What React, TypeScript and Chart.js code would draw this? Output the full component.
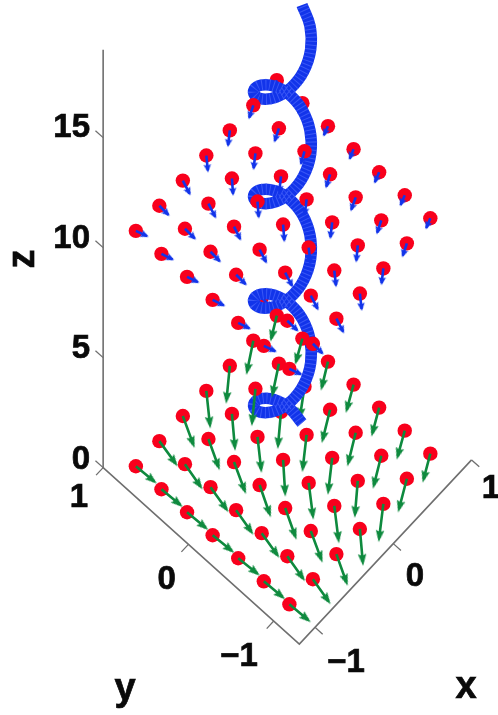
import React, { useEffect, useRef } from "react";
import { Chart, registerables } from "chart.js";

Chart.register(...registerables);

// Grid of field sample points (x and y coordinates)
const gridX = [-1, -0.7, -0.4, -0.1, 0.2, 0.5, 0.8];
const gridY = [-1, -0.7, -0.4, -0.1, 0.2, 0.5, 0.8];
const lowerZ = 0;
const upperZ = 10.7;

// Field vectors in the lower plane; rows follow gridY, columns follow gridX
const lowerU = [
  [0.008, -0.059, -0.14, -0.221, -0.276, -0.27, -0.233],
  [0.008, -0.059, -0.137, -0.215, -0.258, -0.263, -0.235],
  [0.014, -0.057, -0.14, -0.211, -0.265, -0.267, -0.233],
  [0.012, -0.059, -0.144, -0.225, -0.267, -0.265, -0.229],
  [0.009, -0.057, -0.138, -0.21, -0.261, -0.243, -0.229],
  [0.009, -0.061, -0.137, -0.221, -0.264, -0.26, -0.213],
  [0.01, -0.057, -0.139, -0.221, -0.268, -0.263, -0.206],
];
const lowerV = [
  [-0.243, -0.262, -0.261, -0.241, -0.198, -0.145, -0.124],
  [-0.243, -0.262, -0.263, -0.252, -0.201, -0.144, -0.122],
  [-0.241, -0.26, -0.261, -0.249, -0.193, -0.148, -0.124],
  [-0.244, -0.257, -0.264, -0.233, -0.195, -0.146, -0.12],
  [-0.241, -0.264, -0.267, -0.24, -0.201, -0.165, -0.128],
  [-0.241, -0.263, -0.258, -0.241, -0.199, -0.156, -0.11],
  [-0.237, -0.267, -0.265, -0.25, -0.203, -0.16, -0.115],
];

// Field vectors in the upper plane
const upperU = [
  [0.037, -0.007, -0.051, -0.101, -0.12, -0.118, -0.099],
  [0.037, -0.004, -0.051, -0.097, -0.12, -0.118, -0.099],
  [0.033, -0.007, -0.051, -0.099, -0.12, -0.12, -0.102],
  [0.033, -0.007, -0.048, -0.107, -0.12, -0.116, -0.095],
  [0.033, -0.009, -0.05, -0.103, -0.122, -0.114, -0.094],
  [0.033, -0.007, -0.052, -0.105, -0.12, -0.12, -0.099],
  [0.035, -0.007, -0.051, -0.1, -0.12, -0.118, -0.099],
];
const upperV = [
  [-0.119, -0.132, -0.137, -0.116, -0.087, -0.054, -0.036],
  [-0.119, -0.136, -0.137, -0.112, -0.091, -0.054, -0.036],
  [-0.118, -0.132, -0.137, -0.114, -0.087, -0.052, -0.036],
  [-0.118, -0.132, -0.13, -0.114, -0.087, -0.056, -0.036],
  [-0.114, -0.13, -0.128, -0.11, -0.089, -0.058, -0.031],
  [-0.118, -0.136, -0.138, -0.111, -0.087, -0.055, -0.036],
  [-0.117, -0.127, -0.137, -0.112, -0.087, -0.054, -0.036],
];

// Helix (the wire)
const helixX = [
  0.25, 0.2165, 0.125, 0, -0.125, -0.2165, -0.25, -0.2165, -0.125, 0, 0.125, 0.2165,
  0.25, 0.2165, 0.125, 0, -0.125, -0.2165, -0.25, -0.2165, -0.125, 0, 0.125, 0.2165,
  0.25, 0.2165, 0.125, 0, -0.125, -0.2165, -0.25, -0.2165, -0.125, 0, 0.125, 0.2165,
  0.25, 0.2165, 0.125, 0, -0.125, -0.2165, -0.25, -0.2165, -0.125, 0, 0.125, 0.2165,
  0.25,
];
const helixY = [
  0, 0.125, 0.2165, 0.25, 0.2165, 0.125, 0, -0.125, -0.2165, -0.25, -0.2165, -0.125,
  0, 0.125, 0.2165, 0.25, 0.2165, 0.125, 0, -0.125, -0.2165, -0.25, -0.2165, -0.125,
  0, 0.125, 0.2165, 0.25, 0.2165, 0.125, 0, -0.125, -0.2165, -0.25, -0.2165, -0.125,
  0, 0.125, 0.2165, 0.25, 0.2165, 0.125, 0, -0.125, -0.2165, -0.25, -0.2165, -0.125,
  0,
];
const helixZ = [
  0, 0.396, 0.792, 1.188, 1.583, 1.979, 2.375, 2.771, 3.167, 3.563, 3.958, 4.354,
  4.75, 5.146, 5.542, 5.938, 6.333, 6.729, 7.125, 7.521, 7.917, 8.313, 8.708, 9.104,
  9.5, 9.896, 10.292, 10.688, 11.083, 11.479, 11.875, 12.271, 12.667, 13.063, 13.458, 13.854,
  14.25, 14.646, 15.042, 15.438, 15.833, 16.229, 16.625, 17.021, 17.417, 17.813, 18.208, 18.604,
  19,
];

// Axis ticks
const xTicks = [-1, 0, 1];
const yTicks = [-1, 0, 1];
const zTicks = [0, 5, 10, 15];
const xMin = -1.2;
const yMin = -1.3;
const yMax = 1;
const zMax = 19;

// Sample points painted before the helix, as [column, row]
const lowerBehind = [[4, 4], [5, 4]];
const upperBehind = [[6, 6], [6, 5], [1, 2]];

type P = { x: number; y: number };

// View of the 3D box on the flat chart plane
const project = (x: number, y: number, z: number): P => ({
  x: 282.4 + 78.3 * x - 85.3 * y,
  y: 443.9 - 83.7 * x - 76.7 * y - 22 * z,
});

const isIn = (list: number[][], i: number, j: number) =>
  list.some((e) => e[0] === i && e[1] === j);

const gap: P = { x: NaN, y: NaN };

function makeHead(color: string, len: number, wid: number) {
  const c = document.createElement("canvas");
  const s = Math.ceil(len * 2 + 4);
  c.width = s;
  c.height = s;
  const g = c.getContext("2d")!;
  g.fillStyle = color;
  g.beginPath();
  g.moveTo(s / 2, s / 2);
  g.lineTo(s / 2 + wid / 2, s / 2 + len);
  g.lineTo(s / 2, s / 2 + len * 0.85);
  g.lineTo(s / 2 - wid / 2, s / 2 + len);
  g.closePath();
  g.fill();
  return c;
}

function fieldLayers(
  z: number,
  U: number[][],
  V: number[][],
  keep: (i: number, j: number) => boolean,
  color: string,
  head: HTMLCanvasElement,
  shaft: number,
  order: number
) {
  const dots: P[] = [];
  const lines: P[] = [];
  const tips: P[] = [];
  const rot: number[] = [];
  gridY.forEach((y, j) => {
    gridX.forEach((x, i) => {
      if (!keep(i, j)) return;
      const a = project(x, y, z);
      const b = project(x + U[j][i], y + V[j][i], z);
      dots.push(a);
      lines.push(a, { x: a.x + (b.x - a.x) * 0.88, y: a.y + (b.y - a.y) * 0.88 }, gap);
      tips.push(b);
      rot.push((Math.atan2(b.x - a.x, -(b.y - a.y)) * 180) / Math.PI);
    });
  });
  return [
    {
      data: dots, order: order + 2, pointRadius: 7.2, pointBackgroundColor: "#f8001c",
      pointBorderWidth: 0, showLine: false,
    },
    {
      data: lines, order: order + 1, showLine: true, borderColor: color, borderWidth: shaft,
      pointRadius: 0, spanGaps: false,
    },
    {
      data: tips, order, pointStyle: head, pointRadius: 6, pointRotation: rot, showLine: false,
    },
  ];
}

const LABELS: { t: string; x: number; y: number; size: number; rot?: number; align?: CanvasTextAlign }[] = [
  { t: "15", x: 90, y: 128, size: 33, align: "right" },
  { t: "10", x: 90, y: 238.5, size: 33, align: "right" },
  { t: "5", x: 90, y: 349, size: 33, align: "right" },
  { t: "0", x: 90, y: 460, size: 33, align: "right" },
  { t: "1", x: 79, y: 498, size: 33 },
  { t: "0", x: 166.7, y: 580, size: 33 },
  { t: "\u22121", x: 239, y: 657, size: 33 },
  { t: "\u22121", x: 346, y: 662.5, size: 33 },
  { t: "0", x: 415, y: 577, size: 33 },
  { t: "1", x: 491, y: 489, size: 33 },
  { t: "x", x: 466, y: 688, size: 38 },
  { t: "y", x: 125, y: 690, size: 38 },
  { t: "z", x: 24, y: 259, size: 38, rot: -90 },
];

const textPlugin = {
  id: "axisText",
  afterDraw(chart: any) {
    const { ctx, scales } = chart;
    LABELS.forEach((l) => {
      ctx.save();
      ctx.translate(scales.x.getPixelForValue(l.x), scales.y.getPixelForValue(l.y));
      if (l.rot) ctx.rotate((l.rot * Math.PI) / 180);
      ctx.font = `bold ${l.size}px "Liberation Sans", Arial, sans-serif`;
      ctx.fillStyle = "#0a0a0a";
      ctx.strokeStyle = "#0a0a0a";
      ctx.lineWidth = 0.7;
      ctx.textAlign = l.align || "center";
      ctx.textBaseline = "middle";
      ctx.fillText(l.t, 0, 0);
      ctx.strokeText(l.t, 0, 0);
      ctx.restore();
    });
  },
};

export default function App() {
  const ref = useRef<HTMLCanvasElement | null>(null);
  useEffect(() => {
    document.body.style.margin = "0";
    const axisPts: P[] = [
      project(xMin, yMax, zMax),
      project(xMin, yMax, 0),
      project(xMin, yMin, 0),
      project(xTicks[2], yMin, 0),
    ];
    const tickPts: P[] = [];
    xTicks.forEach((t) => tickPts.push(project(t, yMin, 0), project(t, yMin - 0.09, 0), gap));
    yTicks.forEach((t) => tickPts.push(project(xMin, t, 0), project(xMin - 0.09, t, 0), gap));
    zTicks.forEach((t) => tickPts.push(project(xMin, yMax, t), project(xMin, yMax + 0.09, t), gap));

    const helix = helixX.map((x, k) => project(x, helixY[k], helixZ[k]));
    const green = makeHead("#0e8a3e", 12, 8.5);
    const blue = makeHead("#1234ea", 8, 7.5);

    const datasets: any[] = [
      { data: axisPts, order: 100, showLine: true, borderColor: "#6f6f6f", borderWidth: 1.6, pointRadius: 0 },
      { data: tickPts, order: 100, showLine: true, borderColor: "#6f6f6f", borderWidth: 1.3, pointRadius: 0, spanGaps: false },
      ...fieldLayers(lowerZ, lowerU, lowerV, (i, j) => isIn(lowerBehind, i, j), "#0e8a3e", green, 2.6, 80),
      ...fieldLayers(upperZ, upperU, upperV, (i, j) => isIn(upperBehind, i, j), "#1234ea", blue, 2.6, 70),
      { data: helix, order: 51, showLine: true, borderColor: "#1234ea", borderWidth: 11.5, tension: 0.4, pointRadius: 0, borderCapStyle: "butt" },
      { data: helix, order: 50, showLine: true, borderColor: "rgba(90,115,255,0.55)", borderWidth: 11.5, tension: 0.4, pointRadius: 0, borderDash: [1, 3], borderCapStyle: "butt" },
      ...fieldLayers(lowerZ, lowerU, lowerV, (i, j) => !isIn(lowerBehind, i, j), "#0e8a3e", green, 2.6, 30),
      ...fieldLayers(upperZ, upperU, upperV, (i, j) => !isIn(upperBehind, i, j), "#1234ea", blue, 2.6, 20),
    ];

    const chart = new Chart(ref.current!, {
      type: "scatter",
      data: { datasets },
      options: {
        responsive: false,
        animation: false,
        layout: { padding: 0, autoPadding: false },
        plugins: { legend: { display: false }, tooltip: { enabled: false } },
        events: [],
        scales: {
          x: { type: "linear", min: 0, max: 498, display: false },
          y: { type: "linear", min: 0, max: 715, reverse: true, display: false },
        },
      },
      plugins: [textPlugin],
    } as any);
    return () => chart.destroy();
  }, []);
  return (
    <canvas
      ref={ref}
      width={498}
      height={715}
      style={{ display: "block", filter: "blur(0.6px)" }}
    />
  );
}
